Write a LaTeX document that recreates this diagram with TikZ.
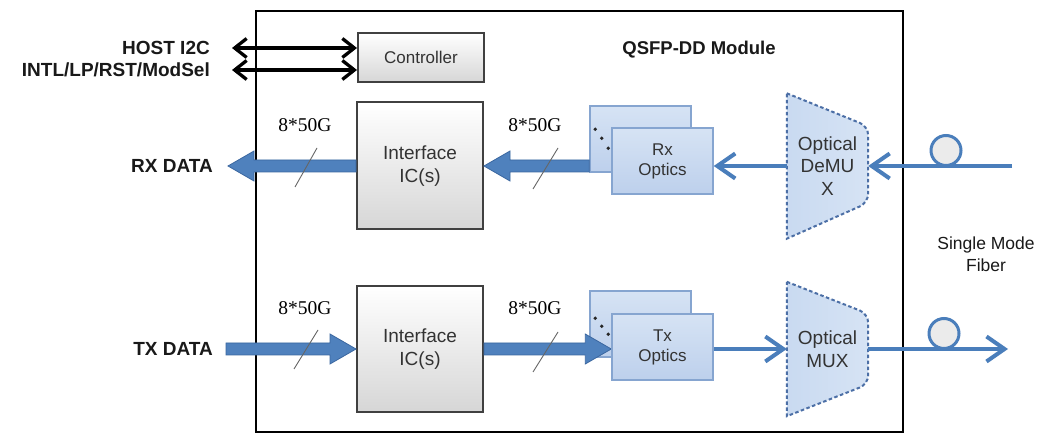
\documentclass[tikz,border=0pt]{standalone}
\usepackage{fontspec}
\setmainfont{Liberation Sans}
\newfontfamily\serifnum{Liberation Serif}
\usetikzlibrary{arrows.meta,calc}
\definecolor{fatblue}{HTML}{4F81BD}
\definecolor{fatedge}{HTML}{3B67A0}
\definecolor{lineblue}{HTML}{4A7EBB}
\definecolor{optfill}{HTML}{D6E3F4}
\definecolor{optfilldark}{HTML}{BDD0EC}
\definecolor{optedge}{HTML}{86A5D0}
\definecolor{muxfill}{HTML}{C9DAF1}
\definecolor{muxedge}{HTML}{4C6FA6}
\definecolor{boxedge}{HTML}{404040}
\definecolor{txt}{HTML}{333333}
\tikzset{
  lbl/.style={font=\fontsize{19}{23}\selectfont\bfseries, text=black!90, inner sep=0pt},
  graybox/.style={draw=boxedge, line width=2pt, top color=white, bottom color=black!16,
     minimum width=126pt, inner sep=0pt, align=center, text=txt},
  optbox/.style={draw=optedge, line width=1.5pt, top color=optfill, bottom color=optfilldark,
     minimum width=101pt, minimum height=66pt, inner sep=0pt, align=center, text=txt,
     font=\fontsize{17}{20}\selectfont},
  muxbox/.style={minimum width=81pt, inner sep=0pt, align=center, text=txt,
     font=\fontsize{19}{22.5}\selectfont},
  muxshape/.style={draw=muxedge, line width=2pt, dash pattern=on 3.5pt off 2.5pt,
     left color=muxfill, right color=optfill},
  fatarr/.style={fill=fatblue, draw=fatedge, line width=0.8pt},
  thinarr/.style={draw=lineblue, line width=4pt, -{Straight Barb[length=18pt,width=25pt]}},
  ctrlarr/.style={draw=black, line width=3.3pt, {Straight Barb[length=12pt,width=19pt]}-{Straight Barb[length=12pt,width=19pt]}},
  rate/.style={font=\serifnum\fontsize{19.5}{22}\selectfont, inner sep=0pt},
  slash/.style={draw=black!60, line width=0.9pt},
  loop/.style={circle, draw=lineblue, line width=3pt, fill=black!8, minimum size=30pt, inner sep=0pt}
}
\newcommand\fatR[2]{% tip at #2, pointing right
  \path[fatarr] let \p1=(#1), \p2=(#2) in
   (\x1,\y2+6pt) -- (\x2-26pt,\y2+6pt) -- (\x2-26pt,\y2+15pt) -- (\x2,\y2)
   -- (\x2-26pt,\y2-15pt) -- (\x2-26pt,\y2-6pt) -- (\x1,\y2-6pt) -- cycle;}
\newcommand\fatL[2]{% tip at #2, pointing left
  \path[fatarr] let \p1=(#1), \p2=(#2) in
   (\x1,\y2+6pt) -- (\x2+26pt,\y2+6pt) -- (\x2+26pt,\y2+15pt) -- (\x2,\y2)
   -- (\x2+26pt,\y2-15pt) -- (\x2+26pt,\y2-6pt) -- (\x1,\y2-6pt) -- cycle;}
\begin{document}
\begin{tikzpicture}[x=1pt,y=-1pt]
\useasboundingbox (0,0) rectangle (1050,435);
\fill[white] (0,0) rectangle (1050,435);

% module frame
\node[draw=black, line width=2.5pt, minimum width=647pt, minimum height=421pt, inner sep=0pt] (module) at (579.5,221.5) {};
\node[lbl, font=\fontsize{18.5}{21}\selectfont\bfseries] (modtitle) at (699,50) {QSFP-DD Module};

% controller
\node[graybox, minimum height=49pt, font=\fontsize{17}{20}\selectfont] (ctrl) at (421,57.5) {Controller};
\coordinate (i2cend) at (232,48);
\coordinate (intlend) at (232,70);
\draw[ctrlarr] (i2cend) -- (i2cend -| ctrl.west);
\draw[ctrlarr] (intlend) -- (intlend -| ctrl.west);
\node[lbl, anchor=east] (i2clbl) at (210,48) {HOST I2C};
\node[lbl, anchor=east] (intllbl) at (210,70) {INTL/LP/RST/ModSel};

% interface ICs
\node[graybox, minimum height=127pt, font=\fontsize{19}{23}\selectfont] (rxic) at (420,166) {Interface\\IC(s)};
\node[graybox, minimum height=126pt, font=\fontsize{19}{23}\selectfont] (txic) at (420,349) {Interface\\IC(s)};

% RX optics stack
\node[optbox] (rxback) at (640.5,139) {};
\fill[black!85] ($(rxback.north west)+(6pt,-24pt)$) circle (1.8pt)
                ($(rxback.north west)+(12.5pt,-33pt)$) circle (1.8pt)
                ($(rxback.north west)+(19pt,-43pt)$) circle (1.8pt);
\fatL{rxback.west}{rxic.east}
\node[optbox] (rxfront) at (662.5,161) {Rx\\Optics};

% TX optics stack
\node[optbox] (txback) at (640.5,324) {};
\fill[black!85] ($(txback.north west)+(6pt,-28pt)$) circle (1.8pt)
                ($(txback.north west)+(12.5pt,-36pt)$) circle (1.8pt)
                ($(txback.north west)+(19pt,-44pt)$) circle (1.8pt);
\fatR{txic.east}{txic.east -| rxfront.west}
\node[optbox] (txfront) at (662.5,347) {Tx\\Optics};

% RX data out / TX data in
\coordinate (rxout) at (228,166);
\fatL{rxic.west}{rxout}
\coordinate (txin) at (226,349);
\fatR{txin}{txic.west}
\node[lbl, anchor=east] (rxlbl) at (213,166) {RX DATA};
\node[lbl, anchor=east] (txlbl) at (213,349) {TX DATA};

% rate labels and slashes
\node[rate] (r1) at (305,125) {8*50G};
\node[rate] (r2) at (535,125) {8*50G};
\node[rate] (r3) at (305,308) {8*50G};
\node[rate] (r4) at (535,308) {8*50G};
\draw[slash] (317,148) -- (295,187);
\draw[slash] (558,148) -- (533,189);
\draw[slash] (318,330) -- (294,369);
\draw[slash] (558,332) -- (533,372);

% DeMUX
\node[muxbox, minimum height=145pt] (demux) at (827.5,166) {};
\path[muxshape] (demux.north west) [rounded corners=9pt] -- ([yshift=-33pt]demux.north east)
   -- ([yshift=36pt]demux.south east) [sharp corners] -- (demux.south west) -- cycle;
\node[muxbox] (demuxtxt) at (demux.center) {Optical\\DeMU\\X};

% MUX
\node[muxbox, minimum height=134pt] (mux) at (827.5,349) {};
\path[muxshape] (mux.north west) [rounded corners=9pt] -- ([yshift=-32pt]mux.north east)
   -- ([yshift=32pt]mux.south east) [sharp corners] -- (mux.south west) -- cycle;
\node[muxbox] (muxtxt) at (mux.center) {Optical\\MUX};

% optical thin arrows
\draw[thinarr] (demux.west) -- (demux.west -| rxfront.east);
\draw[thinarr] (txfront.east |- mux.west) -- (mux.west);
\coordinate (fibin) at (1012,166);
\draw[thinarr] (fibin) -- (demux.east);
\coordinate (fibout) at (1008,349);
\draw[thinarr] (mux.east) -- (fibout);
\node[loop] (rxloop) at (946,150.5) {};
\node[loop] (txloop) at (944,333.5) {};

\node[font=\fontsize{17.5}{22}\selectfont, text=black!90, align=center, inner sep=0pt] (fiberlbl) at (986,254) {Single Mode\\Fiber};
\end{tikzpicture}
\end{document}
